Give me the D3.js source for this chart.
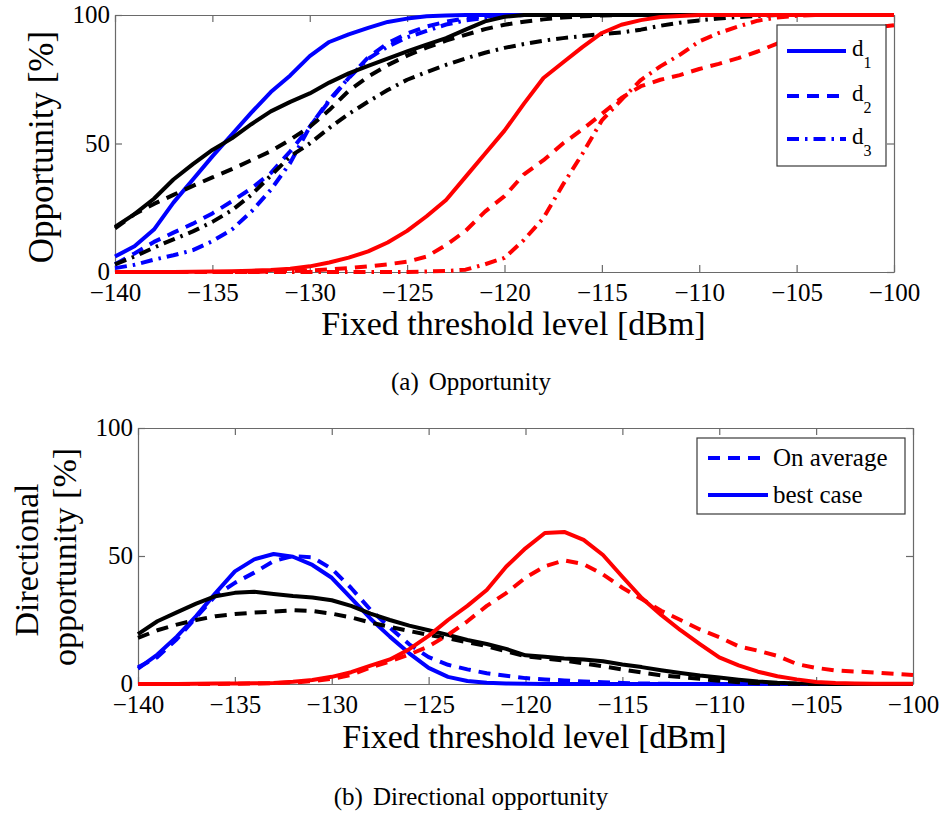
<!DOCTYPE html>
<html>
<head>
<meta charset="utf-8">
<script src="https://cdn.jsdelivr.net/npm/d3@7/dist/d3.min.js"></script>
<style>
  html, body { margin: 0; padding: 0; background: #fff; }
  svg { display: block; }
  svg text { fill: #000; }
</style>
</head>
<body>
<svg id="fig" width="946" height="815"></svg>
<script>
// Fixed threshold levels [dBm]
const thresholds = [-140,-139,-138,-137,-136,-135,-134,-133,-132,-131,-130,-129,-128,-127,-126,-125,-124,-123,-122,-121,
                    -120,-119,-118,-117,-116,-115,-114,-113,-112,-111,-110,-109,-108,-107,-106,-105,-104,-103,-102,-101,-100];
const xTicks = [-140,-135,-130,-125,-120,-115,-110,-105,-100];
const yTicks = [0, 50, 100];

// (a) Opportunity [%]
const blueD1  = [6,10,16.5,27,36,45,53.5,62,70,76.5,84,89.5,92.5,95,97.3,98.6,99.5,99.8,
                 100,100,100,100,100,100,100,100,100,100,100,100,100,100,100,100,100,100,100,100,100,100,100];
const blueD2  = [3,7.2,11.7,15.3,18.8,22.8,27.5,32.5,38.5,47,56.5,66.5,75.5,83.5,89,92.8,95.5,97.4,98.7,99.5,
                 100,100,100,100,100,100,100,100,100,100,100,100,100,100,100,100,100,100,100,100,100];
const blueD3  = [1.5,2.8,4.8,6.5,8.5,12,16.5,23.5,32,42.5,56.5,67,75.5,83,87.7,91.3,93.8,96.3,97.9,98.9,99.6,
                 100,100,100,100,100,100,100,100,100,100,100,100,100,100,100,100,100,100,100,100];
const blackD1 = [17.5,22.5,28.5,36,42,47.5,52,57.5,62.5,66.2,69.5,73.7,77.3,80.2,83,85.8,88.5,91,94.3,97.5,99.3,
                 100,100,100,100,100,100,100,100,100,100,100,100,100,100,100,100,100,100,100,100];
const blackD2 = [17,22.5,26.5,30,33.5,36.8,40,43.5,47,51.5,56.5,63,70.5,76,80.5,84.2,87.3,90,92.3,94.5,96.2,97.4,98.3,99,99.5,99.8,
                 100,100,100,100,100,100,100,100,100,100,100,100,100,100,100];
const blackD3 = [3,6,9.5,12.7,15.8,19.5,24,30,37.5,45,50,56,61.5,66.3,70.8,74.8,77.8,80.6,83.1,85.3,87.2,88.7,90,91,91.8,92.6,93.2,94.3,95.8,97,97.9,98.6,99.2,99.7,
                 100,100,100,100,100,100,100];
const redD1   = [0,0,0,0,0.1,0.2,0.3,0.5,0.8,1.3,2.2,3.7,5.6,8,11.5,16,21.7,28,37,46,55,65.5,75.5,81.5,87.5,93,96.2,98,99.2,99.6,
                 100,100,100,100,100,100,100,100,100,100,100];
const redD2   = [0,0,0,0,0,0,0,0,0.2,0.4,0.6,1,1.5,2.2,3,4,6,10.5,16,23.5,29.5,38,43.5,50,55.5,61.5,67.7,72.3,74.8,76.6,
                 79,81,83.2,85.8,88.9,90.6,92,93.3,94.3,95.2,96];
const redD3   = [0,0,0,0,0,0,0,0,0,0,0,0,0,0,0,0,0.2,0.4,0.9,3,5.5,12.5,21,34,46,59,67,74.7,80,84.5,89.7,93,95.5,97.8,99,99.7,
                 100,100,100,100,100];

// (b) Directional opportunity [%]
const blueBest  = [6,11.5,18.5,26.5,35.5,44,48.7,50.8,49.7,46.5,41.5,33.5,25.5,18.5,12,6.3,2.8,1.2,0.5,0.2,0.1,
                   0,0,0,0,0,0,0,0,0,0,0,0,0,0,0,0,0,0,0,0];
const blueAvg   = [6.5,10.5,17.5,26,34.5,39.5,43.5,48,50,49.5,45,37.5,29,22,15.5,10.5,7.5,5.7,4.2,3.2,2.3,1.8,1.4,1,0.7,0.4,0.2,0.1,
                   0,0,0,0,0,0,0,0,0,0,0,0,0];
const blackBest = [19.5,24.5,28,31.4,34.3,35.6,36,35.2,34.4,33.8,32.7,30.5,27.5,25,22.8,21,19.2,17.2,15.6,13.7,11.2,10.6,10,9.6,8.9,7.6,6.6,5.4,4.3,3.3,
                   2.5,1.7,1,0.5,0.2,0.1,0,0,0,0,0];
const blackAvg  = [18,21,23.2,25,26.5,27.3,27.9,28.3,28.8,28.5,27.5,26,24,22.3,20.7,19.2,17.8,16.3,14.8,12.8,10.8,10,9.2,8,6.9,5.7,4.5,3.4,2.7,2,
                   1.3,0.7,0.3,0.15,0.05,0,0,0,0,0,0];
const redBest   = [0,0,0,0.1,0.2,0.2,0.3,0.4,0.9,1.6,2.8,4.6,7.2,9.6,13.6,18.8,25,30.5,36.7,45.8,53,59,59.4,56.3,50.4,41.9,33.6,27,21,15.6,
                   10.4,7.3,4.8,3,1.8,0.8,0.4,0.2,0.1,0.1,0.1];
const redAvg    = [0,0,0,0,0,0.1,0.2,0.3,0.6,1.1,2,3.5,6.5,8.8,11.5,14.7,19.2,24.5,30.5,35.5,41.5,46,48.3,46.8,42.8,37.6,33.2,28.6,25,21.3,
                   18.3,14.7,13,11,7.8,6.3,5.3,4.9,4.5,4,3.5];

const BLUE = "#0000ff", BLACK = "#000000", RED = "#ff0000";
const DASH = "12,8", DASHDOT = "12,6,2.5,6";
const FRAME = "#6a6a6a";
const SERIF = "Liberation Serif, Tinos, Times New Roman, Times, Nimbus Roman, FreeSerif, DejaVu Serif, Noto Serif, serif";

const svg = d3.select("#fig").attr("font-family", SERIF);
svg.append("rect").attr("width", 946).attr("height", 815).attr("fill", "#fff");

function panel(opts) {
  const x = d3.scaleLinear().domain([-140, -100]).range([opts.left, opts.right]);
  const y = d3.scaleLinear().domain([0, 100]).range([opts.bottom, opts.top]);
  const g = svg.append("g");

  g.append("rect")
    .attr("x", opts.left).attr("y", opts.top)
    .attr("width", opts.right - opts.left).attr("height", opts.bottom - opts.top)
    .attr("fill", "#fff");

  const styleAxis = sel => {
    sel.attr("font-family", SERIF);
    sel.select(".domain").attr("stroke", FRAME).attr("stroke-width", 1.2);
    sel.selectAll(".tick line").attr("stroke", FRAME).attr("stroke-width", 1.2);
  };

  // bottom axis with labels, ticks pointing inward
  const ax = g.append("g").attr("transform", `translate(0,${opts.bottom})`)
    .call(d3.axisBottom(x).tickValues(xTicks).tickSizeInner(-7).tickSizeOuter(0));
  styleAxis(ax);
  ax.selectAll(".tick text").attr("y", 29).attr("dy", 0)
    .attr("font-size", 25).attr("fill", "#000");

  const axTop = g.append("g").attr("transform", `translate(0,${opts.top})`)
    .call(d3.axisTop(x).tickValues(xTicks).tickFormat(() => "").tickSizeInner(-7).tickSizeOuter(0));
  styleAxis(axTop);

  const ay = g.append("g").attr("transform", `translate(${opts.left},0)`)
    .call(d3.axisLeft(y).tickValues(yTicks).tickSizeInner(-7).tickSizeOuter(0));
  styleAxis(ay);
  ay.selectAll(".tick text").attr("x", -5).attr("dy", "0.3em")
    .attr("font-size", 25).attr("fill", "#000");

  const ayR = g.append("g").attr("transform", `translate(${opts.right},0)`)
    .call(d3.axisRight(y).tickValues(yTicks).tickFormat(() => "").tickSizeInner(-7).tickSizeOuter(0));
  styleAxis(ayR);

  const line = d3.line().x((d, i) => x(thresholds[i])).y(d => y(d));
  opts.series.forEach(s => {
    g.append("path")
      .attr("d", line(s.values))
      .attr("fill", "none")
      .attr("stroke", s.color)
      .attr("stroke-width", 4)
      .attr("stroke-linejoin", "round")
      .attr("stroke-dasharray", s.dash || null);
  });

  // x-axis title
  g.append("text")
    .attr("x", (opts.left + opts.right) / 2 + 9).attr("y", opts.xTitleY)
    .attr("text-anchor", "middle").attr("font-size", 34)
    .text("Fixed threshold level [dBm]");

  return { g, x, y };
}

// ---------- (a) Opportunity ----------
panel({
  left: 115, right: 894, top: 15, bottom: 272, xTitleY: 335,
  series: [
    { values: blueD1, color: BLUE },
    { values: blueD2, color: BLUE, dash: DASH },
    { values: blueD3, color: BLUE, dash: DASHDOT },
    { values: blackD1, color: BLACK },
    { values: blackD2, color: BLACK, dash: DASH },
    { values: blackD3, color: BLACK, dash: DASHDOT },
    { values: redD1, color: RED },
    { values: redD2, color: RED, dash: DASH },
    { values: redD3, color: RED, dash: DASHDOT }
  ]
});

svg.append("text")
  .attr("transform", "translate(53,147) rotate(-90)")
  .attr("text-anchor", "middle").attr("font-size", 35)
  .text("Opportunity [%]");

// legend (a)
const legA = svg.append("g");
legA.append("rect").attr("x", 777).attr("y", 25).attr("width", 109).attr("height", 141)
  .attr("fill", "#fff").attr("stroke", "#3a3a3a").attr("stroke-width", 1.2);
[
  { sub: "1", dash: null, y: 51 },
  { sub: "2", dash: DASH, y: 96 },
  { sub: "3", dash: DASHDOT, y: 139 }
].forEach(it => {
  legA.append("line").attr("x1", 787).attr("x2", 846).attr("y1", it.y).attr("y2", it.y)
    .attr("stroke", BLUE).attr("stroke-width", 4).attr("stroke-dasharray", it.dash);
  const t = legA.append("text").attr("x", 852).attr("y", it.y + 5).attr("font-size", 23);
  t.append("tspan").text("d");
  t.append("tspan").attr("dy", 12).attr("font-size", 16).text(it.sub);
});

svg.append("text")
  .attr("x", 471).attr("y", 390).attr("text-anchor", "middle").attr("font-size", 25)
  .call(t => {
    t.append("tspan").text("(a)");
    t.append("tspan").attr("dx", 10).text("Opportunity");
  });

// ---------- (b) Directional opportunity ----------
panel({
  left: 138, right: 913, top: 428, bottom: 684, xTitleY: 748,
  series: [
    { values: blueBest, color: BLUE },
    { values: blueAvg, color: BLUE, dash: DASH },
    { values: blackBest, color: BLACK },
    { values: blackAvg, color: BLACK, dash: DASH },
    { values: redBest, color: RED },
    { values: redAvg, color: RED, dash: DASH }
  ]
});

svg.append("text")
  .attr("transform", "translate(38,560) rotate(-90)")
  .attr("text-anchor", "middle").attr("font-size", 34)
  .text("Directional");
svg.append("text")
  .attr("transform", "translate(76,557) rotate(-90)")
  .attr("text-anchor", "middle").attr("font-size", 34)
  .text("opportunity [%]");

// legend (b)
const legB = svg.append("g");
legB.append("rect").attr("x", 697).attr("y", 438).attr("width", 208).attr("height", 76)
  .attr("fill", "#fff").attr("stroke", "#3a3a3a").attr("stroke-width", 1.2);
[
  { label: "On average", dash: DASH, y: 458 },
  { label: "best case", dash: null, y: 495 }
].forEach(it => {
  legB.append("line").attr("x1", 708).attr("x2", 768).attr("y1", it.y).attr("y2", it.y)
    .attr("stroke", BLUE).attr("stroke-width", 4).attr("stroke-dasharray", it.dash);
  legB.append("text").attr("x", 773).attr("y", it.y + 8).attr("font-size", 25).text(it.label);
});

svg.append("text")
  .attr("x", 471).attr("y", 805).attr("text-anchor", "middle").attr("font-size", 25)
  .call(t => {
    t.append("tspan").text("(b)");
    t.append("tspan").attr("dx", 10).text("Directional opportunity");
  });
</script>
</body>
</html>
